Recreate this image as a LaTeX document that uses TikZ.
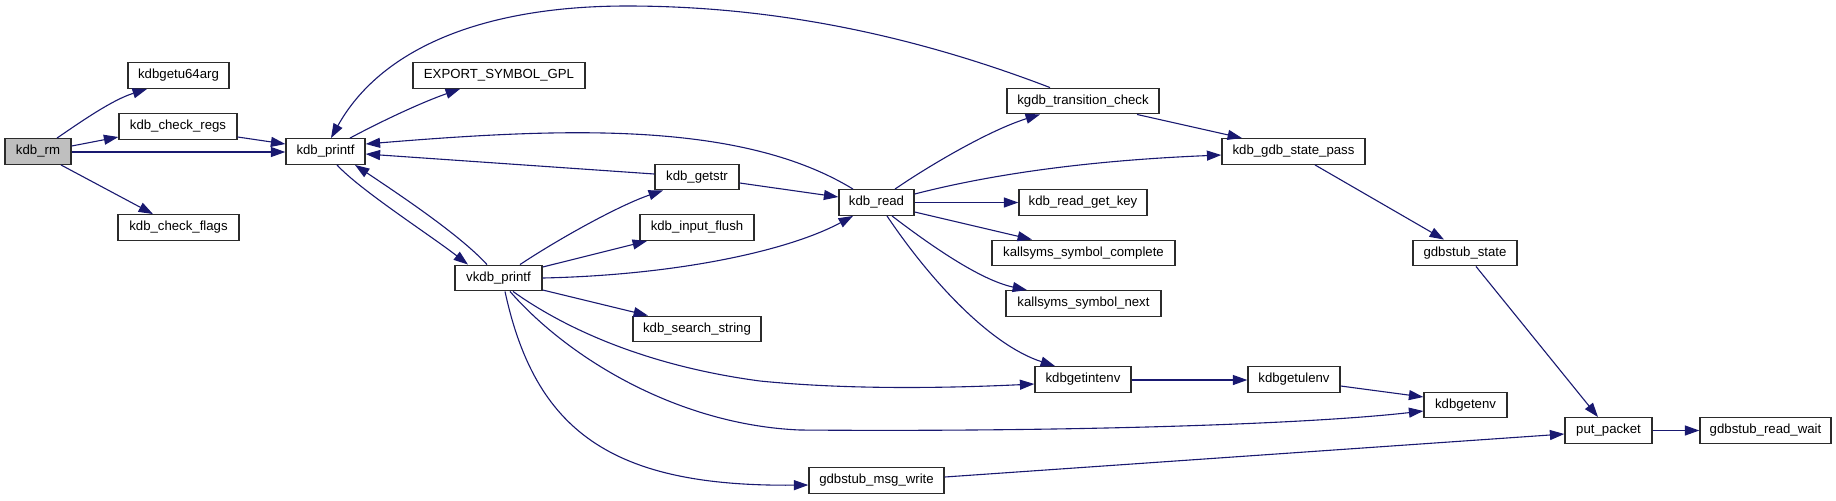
\documentclass[tikz,border=0pt]{standalone}
\usepackage{fontspec}
\setmainfont{Liberation Sans}
\usetikzlibrary{arrows.meta}
\definecolor{edgeblue}{HTML}{191970}
\definecolor{boxline}{HTML}{2B2B2B}
\tikzset{
  fnbox/.style={draw=boxline, line width=0.7pt, fill=white, inner sep=0pt,
    minimum height=12.75pt, font=\fontsize{6.6}{8}\selectfont},
  rootbox/.style={fnbox, fill=black!25},
  edge/.style={draw=edgeblue, line width=0.55pt,
    -{Triangle[length=7.2pt,width=5pt]}}
}
\begin{document}
\begin{tikzpicture}[x=0.5pt,y=-0.5pt]
\useasboundingbox (0,0) rectangle (1836,500);
% nodes
\node[rootbox, minimum width=33pt]   (rm)       at (38,151.5)    {kdb\_rm};
\node[fnbox, minimum width=50.5pt]   (u64)      at (178.5,75.5)  {kdbgetu64arg};
\node[fnbox, minimum width=59pt]     (regs)     at (178,126.5)   {kdb\_check\_regs};
\node[fnbox, minimum width=60.5pt]   (flags)    at (178.5,227.5) {kdb\_check\_flags};
\node[fnbox, minimum width=39.5pt]   (printf)   at (325.5,151.5) {kdb\_printf};
\node[fnbox, minimum width=86pt]     (export)   at (499,75.5)    {EXPORT\_SYMBOL\_GPL};
\node[fnbox, minimum width=43.5pt]   (vkdb)     at (498.5,278)   {vkdb\_printf};
\node[fnbox, minimum width=42pt]     (getstr)   at (697,177)     {kdb\_getstr};
\node[fnbox, minimum width=57pt]     (flush)    at (697,227.5)   {kdb\_input\_flush};
\node[fnbox, minimum width=64pt]     (search)   at (697,329)     {kdb\_search\_string};
\node[fnbox, minimum width=37.5pt]   (read)     at (876.5,202.5) {kdb\_read};
\node[fnbox, minimum width=67.5pt]   (msgw)     at (876.5,480.5) {gdbstub\_msg\_write};
\node[fnbox, minimum width=76pt]     (trans)    at (1083,101)    {kgdb\_transition\_check};
\node[fnbox, minimum width=64pt]     (getkey)   at (1083,202.5)  {kdb\_read\_get\_key};
\node[fnbox, minimum width=91.5pt]   (complete) at (1083.5,253)  {kallsyms\_symbol\_complete};
\node[fnbox, minimum width=77.5pt]   (next)     at (1083.5,303.5){kallsyms\_symbol\_next};
\node[fnbox, minimum width=48pt]     (intenv)   at (1083,379.5)  {kdbgetintenv};
\node[fnbox, minimum width=71.5pt]   (pass)     at (1293.5,151.5){kdb\_gdb\_state\_pass};
\node[fnbox, minimum width=46pt]     (ulenv)    at (1294,379.5)  {kdbgetulenv};
\node[fnbox, minimum width=52pt]     (gstate)   at (1465,253)    {gdbstub\_state};
\node[fnbox, minimum width=41.5pt]   (env)      at (1465.5,405)  {kdbgetenv};
\node[fnbox, minimum width=43.5pt]   (put)      at (1608.5,430.5){put\_packet};
\node[fnbox, minimum width=65.5pt]   (wait)     at (1765.5,430.5){gdbstub\_read\_wait};
% edges from kdb_rm
\draw[edge] (57,0 |- rm.north) .. controls (82,121) and (112,100) .. (147,0 |- u64.south);
\draw[edge] (rm.east |- 0,146) -- (regs.west |- 0,137);
\draw[edge] (rm.east |- 0,152) -- (printf.west |- 0,152);
\draw[edge] (61,0 |- rm.south) -- (153,0 |- flags.north);
\draw[edge] (regs.east |- 0,137) -- (printf.west |- 0,144);
% kdb_printf
\draw[edge] (350,0 |- printf.north) .. controls (380,122) and (420,103) .. (460,0 |- export.south);
\draw[edge] (337,0 |- printf.south) .. controls (360,190) and (430,235) .. (468,0 |- vkdb.north);
% into kdb_printf
\draw[edge] (1050,0 |- trans.north) .. controls (900,30) and (760,6) .. (627,6)
   .. controls (480,6) and (380,50) .. (331,0 |- printf.north);
\draw[edge] (853,0 |- read.north) .. controls (740,120) and (560,128) .. (printf.east |- 0,144);
\draw[edge] (getstr.west |- 0,174) -- (printf.east |- 0,154);
\draw[edge] (487,0 |- vkdb.north) .. controls (460,235) and (400,195) .. (355,0 |- printf.south);
% vkdb_printf
\draw[edge] (520,0 |- vkdb.north) .. controls (560,238) and (620,205) .. (663,0 |- getstr.south);
\draw[edge] (vkdb.east |- 0,267) -- (647,0 |- flush.south);
\draw[edge] (vkdb.east |- 0,278) .. controls (680,275) and (790,250) .. (853,0 |- read.south);
\draw[edge] (vkdb.east |- 0,290) -- (648,0 |- search.north);
\draw[edge] (513,0 |- vkdb.south) .. controls (560,325) and (640,365) .. (760,381)
   .. controls (850,390) and (950,388) .. (intenv.west |- 0,384);
\draw[edge] (510,0 |- vkdb.south) .. controls (570,360) and (680,425) .. (800,430)
   .. controls (1050,432) and (1300,425) .. (env.west |- 0,411);
\draw[edge] (505,0 |- vkdb.south) .. controls (535,430) and (610,487) .. (msgw.west |- 0,485);
% kdb_getstr
\draw[edge] (getstr.east |- 0,183) -- (read.west |- 0,197);
% kdb_read
\draw[edge] (895,0 |- read.north) .. controls (930,165) and (990,130) .. (1040,0 |- trans.south);
\draw[edge] (read.east |- 0,194) .. controls (1000,172) and (1100,160) .. (pass.west |- 0,155);
\draw[edge] (read.east |- 0,202.5) -- (getkey.west |- 0,202.5);
\draw[edge] (read.east |- 0,212) -- (1032,0 |- complete.north);
\draw[edge] (892,0 |- read.south) .. controls (930,245) and (980,280) .. (1027,0 |- next.north);
\draw[edge] (887,0 |- read.south) .. controls (930,280) and (990,345) .. (1055,0 |- intenv.north);
% right part
\draw[edge] (1137,0 |- trans.south) -- (1242,0 |- pass.north);
\draw[edge] (1315,0 |- pass.south) -- (1444,0 |- gstate.north);
\draw[edge] (1476,0 |- gstate.south) -- (1598,0 |- put.north);
\draw[edge] (intenv.east |- 0,380) -- (ulenv.west |- 0,380);
\draw[edge] (ulenv.east |- 0,386) -- (env.west |- 0,397);
\draw[edge] (msgw.east |- 0,477) -- (put.west |- 0,434);
\draw[edge] (put.east |- 0,430.5) -- (wait.west |- 0,430.5);
\end{tikzpicture}
\end{document}
